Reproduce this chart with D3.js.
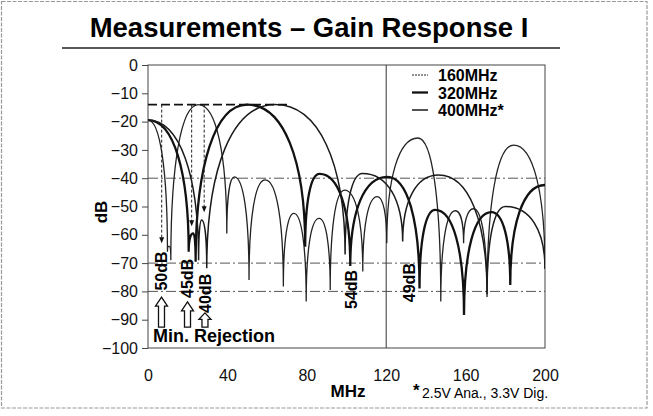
<!DOCTYPE html>
<html>
<head>
<meta charset="utf-8">
<script src="https://d3js.org/d3.v7.min.js"></script>
<style>
  body { margin: 0; background: #fff; }
  svg { font-family: "Liberation Sans", Arial, sans-serif; }
</style>
</head>
<body>
<div id="chart"></div>
<script>

// frequency (MHz) / gain (dB) of nulls and peaks
const freq160 = [0, 9.8, 10.6, 11.5, 25.4, 39.7, 43.5, 50.9, 59, 68.2, 73.5, 79.7, 86.2, 91.8, 99, 108.2, 115.5, 120.3, 136, 147.5, 154.8, 159, 164, 170.8, 184.2, 200];
const gain160 = [-19.5, -66, -64, -69, -14, -59.5, -39.5, -76, -40.6, -78.3, -52.4, -83.6, -54.2, -79.5, -44.2, -73, -46.5, -63, -25.8, -83.6, -51.5, -63, -50.8, -82, -28.3, -72];

const freq320 = [0, 20.5, 22.8, 24, 50, 79.2, 86.4, 101.9, 120.5, 136.8, 144.7, 159.2, 173, 182.5, 200];
const gain320 = [-19.5, -66, -59.5, -69.5, -14, -64.2, -38.5, -71, -39.5, -79, -51.2, -88.3, -52, -77.7, -42.4];

const freq400 = [0, 25.5, 27, 29.6, 64, 99.3, 108, 128.3, 146.4, 170.8, 180, 200];
const gain400 = [-19.5, -69, -54.8, -71.8, -14, -67, -38.3, -62.4, -38.9, -81, -50, -72];

const seriesNames = ["160MHz", "320MHz", "400MHz*"];
const xTicks = [0, 40, 80, 120, 160, 200];
const yTicks = [0, -10, -20, -30, -40, -50, -60, -70, -80, -90, -100];
const gridDb = [-40, -70, -80];
const markerFreq = 120;
const passLevel = -14, passEnd = 71.6;

// min. rejection markers: dashed drop line, rotated label, hollow arrow
const rejLabels = ["50dB", "45dB", "40dB"];
const rejFreq = [6.9, 22, 28.3];
const rejTip = [-63, -57, -52];
const rejLabelFreq = [6.6, 19.9, 29.2];
const rejLabelDb = [-72.8, -75.4, -80.7];
const rejArrowFreq = [6.8, 19.9, 28.7];
const rejArrowTop = [-82, -83.7, -87.6];
const rejArrowBottom = -92.6;

const noteLabels = ["54dB", "49dB"];
const noteFreq = [102.6, 131.6];
const noteDb = [-79.3, -76.9];

const width = 653, height = 416;
const margin = {top: 65, right: 108, bottom: 68, left: 148};

const svg = d3.select("#chart").append("svg")
    .attr("width", width).attr("height", height);

// slide frame
svg.append("rect")
    .attr("x", 1.5).attr("y", 1.5).attr("width", 645.5).attr("height", 406.5)
    .attr("fill", "none").attr("stroke", "#999").attr("stroke-width", 1.2)
    .attr("stroke-dasharray", "4,1.5");

svg.append("text")
    .attr("x", 309).attr("y", 37)
    .attr("text-anchor", "middle")
    .attr("font-size", 27.5).attr("font-weight", "bold")
    .text("Measurements \u2013 Gain Response I");

svg.append("line")
    .attr("x1", 62).attr("x2", 560).attr("y1", 48).attr("y2", 48)
    .attr("stroke", "#222").attr("stroke-width", 1.5);

const x = d3.scaleLinear().domain([0, 200]).range([margin.left, width - margin.right]);
const y = d3.scaleLinear().domain([-100, 0]).range([height - margin.bottom, margin.top]);

svg.append("clipPath").attr("id", "plot")
  .append("rect")
    .attr("x", x(0)).attr("y", y(0))
    .attr("width", x(200) - x(0)).attr("height", y(-100) - y(0));

// grid
svg.selectAll("line.grid").data(gridDb).enter()
  .append("line").attr("class", "grid")
    .attr("x1", x(0)).attr("x2", x(200))
    .attr("y1", d => y(d)).attr("y2", d => y(d))
    .attr("stroke", "#555").attr("stroke-width", 1)
    .attr("stroke-dasharray", "10,3,2,3");

svg.append("line")
    .attr("x1", x(markerFreq)).attr("x2", x(markerFreq))
    .attr("y1", y(0)).attr("y2", y(-100))
    .attr("stroke", "#333").attr("stroke-width", 1);

svg.append("rect")
    .attr("x", x(0)).attr("y", y(0))
    .attr("width", x(200) - x(0)).attr("height", y(-100) - y(0))
    .attr("fill", "none").attr("stroke", "#444").attr("stroke-width", 1);

// axes
const yAxis = svg.append("g")
    .attr("transform", `translate(${x(0)},0)`)
    .call(d3.axisLeft(y).tickValues(yTicks).tickSize(6).tickPadding(4));
yAxis.select(".domain").remove();
yAxis.selectAll("text").attr("font-size", 16).attr("fill", "#111").attr("font-family", null);
yAxis.selectAll("line").attr("stroke", "#444");

const xAxis = svg.append("g")
    .attr("transform", `translate(0,${y(-100)})`)
    .call(d3.axisBottom(x).tickValues(xTicks).tickSize(0).tickPadding(22));
xAxis.select(".domain").remove();
xAxis.selectAll("text").attr("font-size", 16).attr("fill", "#111").attr("font-family", null);

svg.append("text")
    .attr("transform", "translate(101,212) rotate(-90)")
    .attr("text-anchor", "middle").attr("dominant-baseline", "central")
    .attr("font-size", 17).attr("font-weight", "bold")
    .text("dB");

svg.append("text")
    .attr("x", 348).attr("y", 397)
    .attr("text-anchor", "middle")
    .attr("font-size", 17).attr("font-weight", "bold")
    .text("MHz");

svg.append("text")
    .attr("x", 413).attr("y", 396)
    .attr("font-size", 17).attr("font-weight", "bold")
    .text("*");
svg.append("text")
    .attr("x", 422).attr("y", 398)
    .attr("font-size", 14)
    .text("2.5V Ana., 3.3V Dig.");

// lobes: vertical tangent at each null, flat at each peak
const K = 0.62;
function lobePath(fs, gs) {
    const pts = fs.map((f, i) => [x(f), y(gs[i])]);
    const p = d3.path();
    p.moveTo(pts[0][0], pts[0][1]);
    for (let i = 1; i < pts.length; i++) {
        const [x0, y0] = pts[i - 1], [x1, y1] = pts[i];
        if (y1 < y0) {
            p.bezierCurveTo(x0, y0 + K * (y1 - y0), x1 - K * (x1 - x0), y1, x1, y1);
        } else {
            p.bezierCurveTo(x0 + K * (x1 - x0), y0, x1, y1 - K * (y1 - y0), x1, y1);
        }
    }
    return p.toString();
}

const series = [
    {name: seriesNames[0], f: freq160, g: gain160, w: 1.3, c: "#222"},
    {name: seriesNames[1], f: freq320, g: gain320, w: 2.3, c: "#111"},
    {name: seriesNames[2], f: freq400, g: gain400, w: 1.5, c: "#1a1a1a"}
];

svg.append("g").attr("clip-path", "url(#plot)")
  .selectAll("path").data(series).enter()
  .append("path")
    .attr("d", d => lobePath(d.f, d.g))
    .attr("fill", "none")
    .attr("stroke", d => d.c)
    .attr("stroke-width", d => d.w);

// pass-band level and rejection markers
svg.append("line")
    .attr("x1", x(0)).attr("x2", x(passEnd))
    .attr("y1", y(passLevel)).attr("y2", y(passLevel))
    .attr("stroke", "#111").attr("stroke-width", 1.6)
    .attr("stroke-dasharray", "9,4");

const rej = rejLabels.map((label, i) => ({
    label, f: rejFreq[i], tip: rejTip[i],
    lf: rejLabelFreq[i], ld: rejLabelDb[i],
    af: rejArrowFreq[i], at: rejArrowTop[i]
}));

const rg = svg.selectAll("g.rej").data(rej).enter().append("g").attr("class", "rej");
rg.append("line")
    .attr("x1", d => x(d.f)).attr("x2", d => x(d.f))
    .attr("y1", y(passLevel)).attr("y2", d => y(d.tip) - 5)
    .attr("stroke", "#222").attr("stroke-width", 1)
    .attr("stroke-dasharray", "3,2");
rg.append("path")
    .attr("d", d => {
        const cx = x(d.f), ty = y(d.tip);
        return `M${cx - 2.5},${ty - 6}L${cx + 2.5},${ty - 6}L${cx},${ty}Z`;
    })
    .attr("fill", "#111");
rg.append("text")
    .attr("transform", d => `translate(${x(d.lf)},${y(d.ld)}) rotate(-90)`)
    .attr("text-anchor", "middle").attr("dominant-baseline", "central")
    .attr("font-size", 16).attr("font-weight", "bold")
    .text(d => d.label);
rg.append("path")
    .attr("d", d => {
        const cx = x(d.af), top = y(d.at), bot = y(rejArrowBottom);
        const h = Math.min(9, (bot - top) * 0.45);
        return `M${cx},${top}L${cx + 6},${top + h}L${cx + 3},${top + h}L${cx + 3},${bot}` +
               `L${cx - 3},${bot}L${cx - 3},${top + h}L${cx - 6},${top + h}Z`;
    })
    .attr("fill", "#fff").attr("stroke", "#111").attr("stroke-width", 1.3);

svg.append("text")
    .attr("x", x(2.5)).attr("y", y(-97.8))
    .attr("font-size", 18).attr("font-weight", "bold")
    .text("Min. Rejection");

svg.selectAll("text.note").data(noteLabels).enter()
  .append("text").attr("class", "note")
    .attr("transform", (d, i) => `translate(${x(noteFreq[i])},${y(noteDb[i])}) rotate(-90)`)
    .attr("text-anchor", "middle").attr("dominant-baseline", "central")
    .attr("font-size", 16).attr("font-weight", "bold")
    .text(d => d);

// legend
const lg = svg.selectAll("g.legend").data(series).enter()
  .append("g").attr("class", "legend")
    .attr("transform", (d, i) => `translate(412,${75 + i * 17.5})`);
lg.append("line")
    .attr("x1", 0).attr("x2", 16)
    .attr("stroke", d => d.c)
    .attr("stroke-width", (d, i) => i === 0 ? 1 : d.w)
    .attr("stroke-dasharray", (d, i) => i === 0 ? "2,1" : null);
lg.append("text")
    .attr("x", 26).attr("y", 6)
    .attr("font-size", 16).attr("font-weight", "bold")
    .text(d => d.name);

</script>
</body>
</html>
